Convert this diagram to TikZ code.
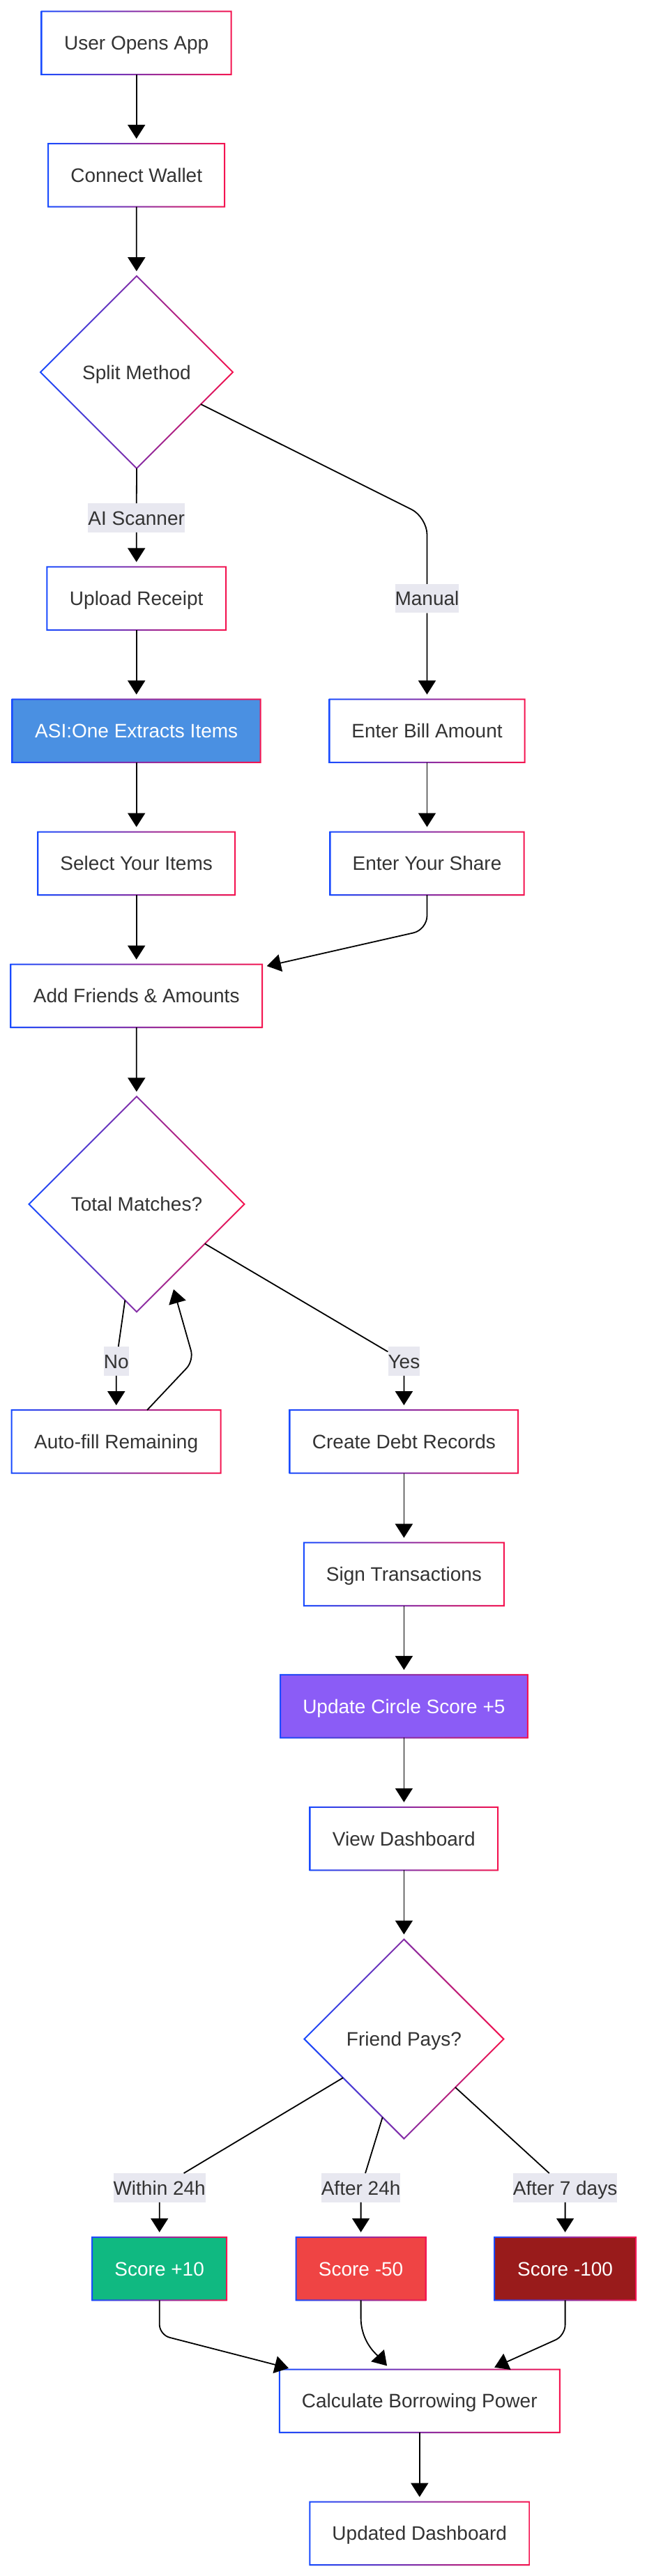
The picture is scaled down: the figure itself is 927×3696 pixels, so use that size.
\documentclass[tikz,border=0pt]{standalone}
\usepackage{fontspec}
\setmainfont{Liberation Sans}
\usetikzlibrary{arrows.meta,calc,shapes.geometric,shadows}
\definecolor{txt}{HTML}{333333}
\definecolor{lblbg}{RGB}{232,232,240}
\definecolor{gleft}{RGB}{25,75,255}
\definecolor{gright}{RGB}{245,20,80}
\definecolor{asiblue}{HTML}{4A90E2}
\definecolor{circlepurple}{HTML}{8B5CF6}
\definecolor{scgreen}{HTML}{10B981}
\definecolor{scred}{HTML}{EF4444}
\definecolor{scdark}{HTML}{991B1B}
\newcommand\myfont{\fontsize{28}{34}\selectfont}
\newcommand\gbox[1]{\shade[gshade,even odd rule]
  ([xshift=-1pt,yshift=1pt]#1.north west) rectangle ([xshift=1pt,yshift=-1pt]#1.south east)
  ([xshift=1pt,yshift=-1pt]#1.north west) rectangle ([xshift=-1pt,yshift=1pt]#1.south east);}
\newcommand\gdia[1]{\shade[gshade,even odd rule]
  ([yshift=1.4pt]#1.north) -- ([xshift=1.4pt]#1.east) -- ([yshift=-1.4pt]#1.south) -- ([xshift=-1.4pt]#1.west) -- cycle
  ([yshift=-1.4pt]#1.north) -- ([xshift=-1.4pt]#1.east) -- ([yshift=1.4pt]#1.south) -- ([xshift=1.4pt]#1.west) -- cycle;}
\begin{document}
\begin{tikzpicture}[x=1pt,y=-1pt,
  gshade/.style={left color=gleft,right color=gright},
  box/.style={rectangle,minimum height=90.5pt,inner sep=0pt,outer sep=0pt,fill=white,text=txt,font=\myfont,
    text height=20pt,text depth=0pt,
    drop shadow={shadow xshift=0pt,shadow yshift=-1.5pt,opacity=0.12}},
  cbox/.style={box,text=white,fill=#1},
  dia/.style={diamond,aspect=1,minimum width=#1,minimum height=#1,inner sep=0pt,outer sep=0pt,fill=white,text=txt,font=\myfont,
    text height=20pt,text depth=0pt,
    drop shadow={shadow xshift=0pt,shadow yshift=-1.5pt,opacity=0.12}},
  elabel/.style={fill=lblbg,inner xsep=0pt,inner ysep=0pt,minimum height=41.5pt,text=txt,font=\myfont,
    text height=20pt,text depth=0pt},
  arr/.style={draw=black,line width=1.8pt,-{Triangle[length=20pt,width=25pt]},shorten >=7pt}]
\useasboundingbox (0,0) rectangle (927,3696);
\fill[white] (0,0) rectangle (927,3696);

% nodes
\node[box,minimum width=272pt] (open) at (195.7,61.6) {User Opens App};
\node[box,minimum width=253pt] (wallet) at (195.7,251.3) {Connect Wallet};
\node[dia=276pt] (split) at (196,534) {Split Method};
\node[box,minimum width=256.6pt] (upload) at (195.7,858.6) {Upload Receipt};
\node[cbox=asiblue,minimum width=356pt] (asi) at (195.7,1048.7) {ASI:One Extracts Items};
\node[box,minimum width=280pt] (bill) at (612.5,1048.7) {Enter Bill Amount};
\node[box,minimum width=282.6pt] (select) at (195.7,1238.8) {Select Your Items};
\node[box,minimum width=278pt] (share) at (612.5,1238.8) {Enter Your Share};
\node[box,minimum width=360.6pt] (addfr) at (195.7,1428.9) {Add Friends \& Amounts};
\node[dia=309pt] (total) at (196,1727.7) {Total Matches?};
\node[box,minimum width=300pt] (autofill) at (166.7,2068.4) {Auto-fill Remaining};
\node[box,minimum width=327.5pt] (create) at (579.4,2068.4) {Create Debt Records};
\node[box,minimum width=287pt] (sign) at (579.4,2258.7) {Sign Transactions};
\node[cbox=circlepurple,minimum width=354.7pt] (update) at (579.4,2448.2) {Update Circle Score +5};
\node[box,minimum width=269.6pt] (view) at (579.4,2638) {View Dashboard};
\node[dia=286pt] (friend) at (579.4,2925.5) {Friend Pays?};
\node[cbox=scgreen,minimum width=193pt] (s10) at (228.7,3255) {Score +10};
\node[cbox=scred,minimum width=186pt] (s50) at (517.6,3255) {Score -50};
\node[cbox=scdark,minimum width=202.8pt] (s100) at (810.6,3255) {Score -100};
\node[box,minimum width=402pt] (calc) at (601.8,3444.8) {Calculate Borrowing Power};
\node[box,minimum width=315pt] (updated) at (601.8,3634.8) {Updated Dashboard};

% gradient borders
\gbox{open}\gbox{wallet}\gbox{upload}\gbox{asi}\gbox{bill}\gbox{select}\gbox{share}\gbox{addfr}
\gbox{autofill}\gbox{create}\gbox{sign}\gbox{update}\gbox{view}\gbox{s10}\gbox{s50}\gbox{s100}
\gbox{calc}\gbox{updated}
\gdia{split}\gdia{total}\gdia{friend}

% edge labels
\node[elabel] (lai) at (195.7,743) {AI Scanner};
\node[elabel] (lman) at (612.5,858.7) {Manual};
\node[elabel] (lno) at (166.8,1953) {No};
\node[elabel] (lyes) at (579.4,1953) {Yes};
\node[elabel] (lw24) at (228.7,3139) {Within 24h};
\node[elabel] (la24) at (517.6,3139) {After 24h};
\node[elabel] (la7) at (810.6,3139) {After 7 days};

% connectors
\draw[arr] (open) -- (wallet);
\draw[arr] (wallet) -- (split);
\draw[arr] (split.south) -- (lai) -- (upload);
\draw[arr,rounded corners=25pt] ($(split.east)!0.333!(split.south)$) -- (612.5,742) -- (lman) -- (bill);
\draw[arr] (upload) -- (asi);
\draw[arr] (asi) -- (select);
\draw[arr] (bill) -- (share);
\draw[arr] (select) -- (addfr);
\draw[arr,rounded corners=20pt] (share.south) -- (612.5,1334) -- ([yshift=-4pt]addfr.north east);
\draw[arr] (addfr) -- (total);
\draw[arr] ($(total.south)!0.108!(total.west)$) -- (lno) -- (autofill);
\draw[arr,rounded corners=15pt] ([xshift=44.3pt]autofill.north) -- (278,1952) -- ([xshift=51.1pt,yshift=39.1pt]total.south);
\draw[arr] ($(total.east)!0.367!(total.south)$) -- (lyes) -- (create);
\draw[arr] (create) -- (sign);
\draw[arr] (sign) -- (update);
\draw[arr] (update) -- (view);
\draw[arr] (view) -- (friend);
\draw[arr] ($(friend.south)!0.611!(friend.west)$) -- (lw24) -- (s10);
\draw[arr] ($(friend.south)!0.215!(friend.west)$) -- (la24) -- (s50);
\draw[arr] ($(friend.south)!0.515!(friend.east)$) -- (la7) -- (s100);
\draw[arr,rounded corners=15pt] (s10.south) -- (228.7,3350) -- ([xshift=20pt]calc.north west);
\draw[arr] (s50.south) -- (517.6,3325) .. controls (517.6,3360) and (540,3378) .. ([xshift=-42pt]calc.north);
\draw[arr,rounded corners=15pt] (s100.south) -- (810.6,3351) -- ([xshift=-100pt]calc.north east);
\draw[arr] (calc) -- (updated);
\end{tikzpicture}
\end{document}
